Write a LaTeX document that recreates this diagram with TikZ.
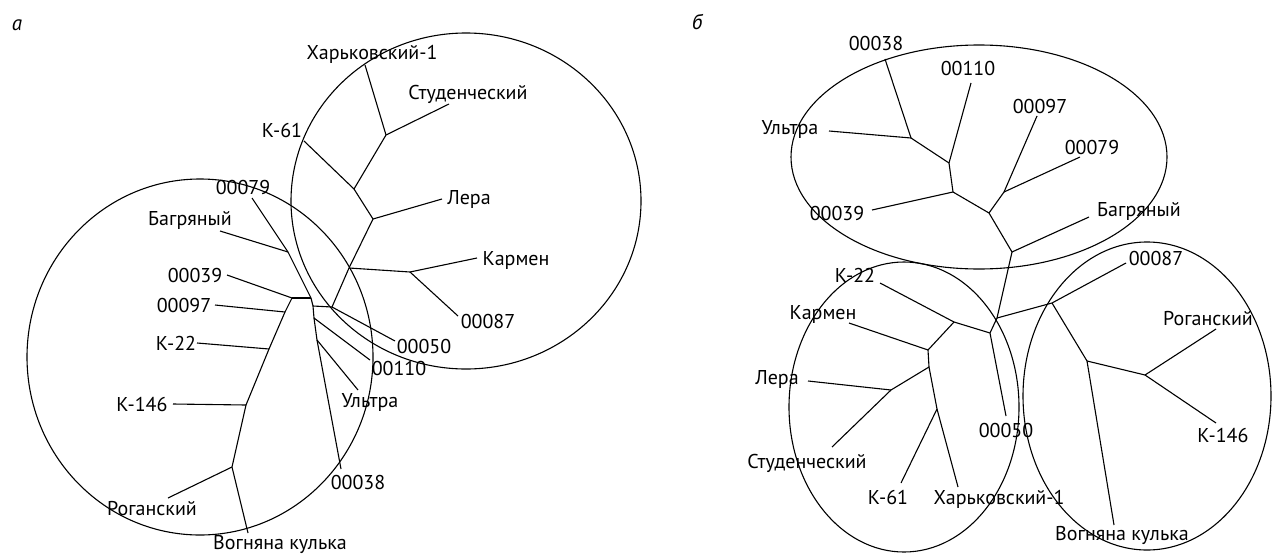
\documentclass[tikz,border=0pt]{standalone}
\usepackage{fontspec}
\setmainfont{PT Sans}
\tikzset{
  br/.style={line width=1.1pt, line join=round},
  oval/.style={line width=1.1pt},
  lbl/.style={inner sep=0pt, anchor=base, font=\fontsize{20}{24}\selectfont},
  panel/.style={inner sep=0pt, anchor=base, font=\fontsize{21}{25}\selectfont\itshape},
}
\begin{document}
\begin{tikzpicture}[x=1pt,y=-1pt]
\path[use as bounding box] (0,0) rectangle (1273,554);

% ---------------- panel a ----------------
\node[panel] (pa) at (17,30) {а};
\draw[oval] (200,357) ellipse [x radius=173, y radius=178];
\draw[oval] (466,201) ellipse [x radius=175, y radius=168];

\coordinate (aH) at (365,65);
\coordinate (aHS) at (386,135);
\coordinate (aS) at (449,104);
\coordinate (aK61n) at (354,189);
\coordinate (aK61) at (304,141);
\coordinate (aLn) at (373,219);
\coordinate (aL) at (442,199);
\coordinate (aC1) at (349,268);
\coordinate (aKn) at (410,272);
\coordinate (aK) at (477,258);
\coordinate (a87) at (458,316);
\coordinate (aNa) at (332,307);
\coordinate (a50) at (395,341);
\coordinate (aNb) at (313,306);
\coordinate (aP) at (311,298);
\coordinate (a39n) at (292,298);
\coordinate (a39) at (227,275);
\coordinate (aBn) at (288,252);
\coordinate (aB) at (220,231);
\coordinate (a79) at (252,198);
\coordinate (aNc) at (314,318);
\coordinate (a110) at (370,360);
\coordinate (aNd) at (317,340);
\coordinate (aU) at (358,390);
\coordinate (a38) at (341,469);
\coordinate (a97n) at (285,312);
\coordinate (a97) at (215,305);
\coordinate (a22n) at (269,349);
\coordinate (a22) at (197,343);
\coordinate (a146n) at (246,405);
\coordinate (a146) at (173,404);
\coordinate (aRn) at (232,467);
\coordinate (aR) at (168,498);
\coordinate (aV) at (248,533);

\draw[br] (aHS) -- (aH);
\draw[br] (aHS) -- (aS);
\draw[br] (aHS) -- (aK61n);
\draw[br] (aK61n) -- (aK61);
\draw[br] (aK61n) -- (aLn);
\draw[br] (aLn) -- (aL);
\draw[br] (aLn) -- (aC1);
\draw[br] (aC1) -- (aKn);
\draw[br] (aKn) -- (aK);
\draw[br] (aKn) -- (a87);
\draw[br] (aC1) -- (aNa);
\draw[br] (aNa) -- (a50);
\draw[br] (aNa) -- (aNb);
\draw[br] (aNb) -- (aP);
\draw[br] (aP) -- (aBn);
\draw[br] (aBn) -- (a79);
\draw[br] (aBn) -- (aB);
\draw[br] (aP) -- (a39n);
\draw[br] (a39n) -- (a39);
\draw[br] (a39n) -- (a97n);
\draw[br] (a97n) -- (a97);
\draw[br] (a97n) -- (a22n);
\draw[br] (a22n) -- (a22);
\draw[br] (a22n) -- (a146n);
\draw[br] (a146n) -- (a146);
\draw[br] (a146n) -- (aRn);
\draw[br] (aRn) -- (aR);
\draw[br] (aRn) -- (aV);
\draw[br] (aNb) -- (aNc);
\draw[br] (aNc) -- (a110);
\draw[br] (aNc) -- (aNd);
\draw[br] (aNd) -- (aU);
\draw[br] (aNd) -- (a38);

\node[lbl] (taH) at (372,59) {Харьковский-1};
\node[lbl] (taS) at (468,99) {Студенческий};
\node[lbl] (taK61) at (282,137) {К-61};
\node[lbl] (taL) at (469,204) {Лера};
\node[lbl] (taK) at (516,265) {Кармен};
\node[lbl] (ta87) at (488,328) {00087};
\node[lbl] (ta50) at (424,353) {00050};
\node[lbl] (ta110) at (399,375) {00110};
\node[lbl] (taU) at (370,407) {Ультра};
\node[lbl] (ta38) at (358,489) {00038};
\node[lbl] (ta79) at (243,194) {00079};
\node[lbl] (taB) at (190,225) {Багряный};
\node[lbl] (ta39) at (195,282) {00039};
\node[lbl] (ta97) at (184,312) {00097};
\node[lbl] (ta22) at (176,350) {К-22};
\node[lbl] (ta146) at (142,411) {К-146};
\node[lbl] (taR) at (152,515) {Роганский};
\node[lbl] (taV) at (280,549) {Вогняна кулька};

% ---------------- panel b ----------------
\node[panel] (pb) at (697,29) {б};
\draw[oval] (979,157) ellipse [x radius=188, y radius=112];
\draw[oval] (904,407) ellipse [x radius=115, y radius=145];
\draw[oval] (1147,396) ellipse [x radius=124, y radius=154];

\coordinate (b38) at (885,59);
\coordinate (bUn) at (911,138);
\coordinate (bU) at (829,131);
\coordinate (b110n) at (949,163);
\coordinate (b110) at (971,83);
\coordinate (bA) at (953,192);
\coordinate (b39) at (872,210);
\coordinate (bB) at (989,213);
\coordinate (bC) at (1004,192);
\coordinate (b97) at (1037,116);
\coordinate (b79) at (1080,157);
\coordinate (bD) at (1012,252);
\coordinate (bBag) at (1089,217);
\coordinate (bR1) at (997,318);
\coordinate (bR2) at (990,333);
\coordinate (bQ) at (954,322);
\coordinate (b22) at (880,283);
\coordinate (b50) at (1006,416);
\coordinate (bKn) at (928,350);
\coordinate (bK) at (849,323);
\coordinate (bZ) at (929,367);
\coordinate (bLn) at (891,390);
\coordinate (bL) at (808,381);
\coordinate (bS) at (832,447);
\coordinate (bW) at (937,409);
\coordinate (bH) at (958,487);
\coordinate (b61) at (901,483);
\coordinate (bE) at (1052,303);
\coordinate (b87) at (1126,263);
\coordinate (bF) at (1087,361);
\coordinate (bV) at (1114,525);
\coordinate (bG) at (1145,375);
\coordinate (bRog) at (1216,329);
\coordinate (b146) at (1216,423);

\draw[br] (bUn) -- (b38);
\draw[br] (bUn) -- (bU);
\draw[br] (bUn) -- (b110n);
\draw[br] (b110n) -- (b110);
\draw[br] (b110n) -- (bA);
\draw[br] (bA) -- (b39);
\draw[br] (bA) -- (bB);
\draw[br] (bB) -- (bC);
\draw[br] (bC) -- (b97);
\draw[br] (bC) -- (b79);
\draw[br] (bB) -- (bD);
\draw[br] (bD) -- (bBag);
\draw[br] (bD) -- (bR1);
\draw[br] (bR1) -- (bE);
\draw[br] (bR1) -- (bR2);
\draw[br] (bR2) -- (bQ);
\draw[br] (bR2) -- (b50);
\draw[br] (bQ) -- (b22);
\draw[br] (bQ) -- (bKn);
\draw[br] (bKn) -- (bK);
\draw[br] (bKn) -- (bZ);
\draw[br] (bZ) -- (bLn);
\draw[br] (bLn) -- (bL);
\draw[br] (bLn) -- (bS);
\draw[br] (bZ) -- (bW);
\draw[br] (bW) -- (bH);
\draw[br] (bW) -- (b61);
\draw[br] (bE) -- (b87);
\draw[br] (bE) -- (bF);
\draw[br] (bF) -- (bV);
\draw[br] (bF) -- (bG);
\draw[br] (bG) -- (bRog);
\draw[br] (bG) -- (b146);

\node[lbl] (tb38) at (876,50) {00038};
\node[lbl] (tbU) at (790,134) {Ультра};
\node[lbl] (tb110) at (968,75) {00110};
\node[lbl] (tb39) at (837,220) {00039};
\node[lbl] (tb97) at (1040,113) {00097};
\node[lbl] (tb79) at (1092,154) {00079};
\node[lbl] (tbBag) at (1139,216) {Багряный};
\node[lbl] (tb22) at (855,282) {К-22};
\node[lbl] (tb50) at (1006,437) {00050};
\node[lbl] (tbK) at (823,319) {Кармен};
\node[lbl] (tbL) at (777,384) {Лера};
\node[lbl] (tbS) at (807,468) {Студенческий};
\node[lbl] (tb61) at (888,504) {К-61};
\node[lbl] (tbH) at (999,504) {Харьковский-1};
\node[lbl] (tb87) at (1156,265) {00087};
\node[lbl] (tbV) at (1122,540) {Вогняна кулька};
\node[lbl] (tbRog) at (1208,325) {Роганский};
\node[lbl] (tb146) at (1223,442) {К-146};
\end{tikzpicture}
\end{document}
